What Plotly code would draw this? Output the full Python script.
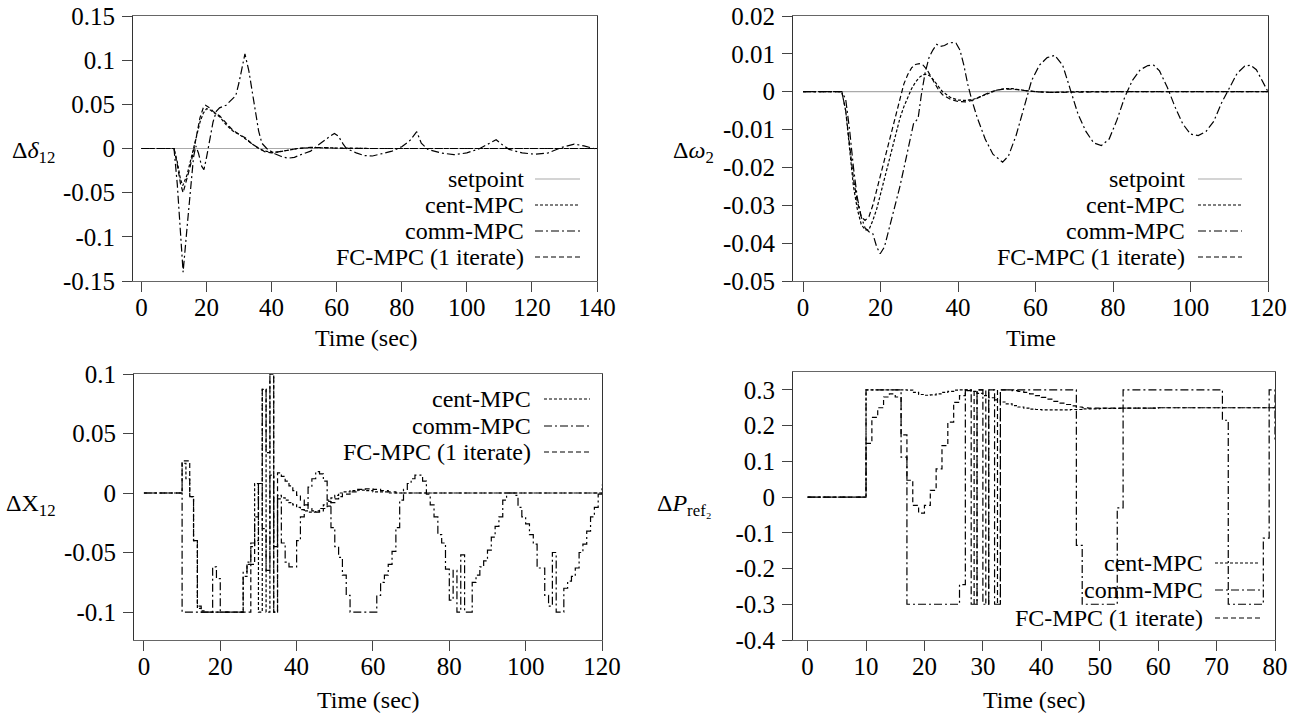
import plotly.graph_objects as go

W, H = 1301, 713
FONT = "Liberation Serif, DejaVu Serif, serif"

# ---------------- data ----------------
# top-left: delta delta_12 vs time
setpoint_d = [(0, 0), (140, 0)]
d12_cent = [(0, 0), (10, 0), (11, -0.015), (12, -0.035), (12.7, -0.042), (14, -0.03), (15, -0.015),
            (16, 0.0), (17, 0.015), (18, 0.03), (19, 0.04), (20, 0.045), (21, 0.044), (22, 0.041),
            (24, 0.036), (26, 0.027), (28, 0.02), (30, 0.016), (32, 0.011), (34, 0.005), (36, 0.0),
            (38, -0.003), (40, -0.004), (42, -0.004), (45, -0.002), (48, 0.0), (52, 0.001),
            (56, 0.0008), (60, 0.0003), (70, 0), (140, 0)]
d12_fc = [(0, 0), (10, 0), (11, -0.018), (12, -0.04), (12.8, -0.05), (14, -0.035), (15, -0.02),
          (16, -0.003), (17, 0.018), (18, 0.035), (19, 0.046), (19.7, 0.049), (21, 0.046), (22, 0.042),
          (24, 0.037), (26, 0.029), (28, 0.021), (30, 0.016), (32, 0.012), (34, 0.005), (36, 0.0),
          (38, -0.004), (40, -0.005), (42, -0.004), (45, -0.002), (48, 0.0), (52, 0.0012),
          (56, 0.001), (60, 0.0003), (70, 0), (140, 0)]
d12_comm = [(0, 0), (10, 0), (11, -0.04), (12, -0.1), (12.8, -0.14), (14, -0.09), (15, -0.05),
            (16, -0.01), (16.7, 0.003), (17.5, -0.005), (18.5, -0.02), (19.2, -0.024), (20, -0.01),
            (21, 0.01), (22, 0.03), (23, 0.042), (24, 0.046), (26, 0.049), (28, 0.056), (29, 0.06),
            (30, 0.075), (31, 0.095), (31.8, 0.107), (33, 0.088), (34, 0.065), (35, 0.045),
            (36, 0.02), (37, 0.006), (38.5, 0.0), (41, -0.006), (43, -0.009), (45, -0.011),
            (47, -0.01), (49, -0.007), (52, -0.003), (54, 0.003), (56, 0.009), (58, 0.014),
            (59.3, 0.017), (60.5, 0.014), (62, 0.005), (63, 0.0), (66, -0.005), (68.5, -0.008),
            (71, -0.0085), (74, -0.006), (77, -0.003), (80, 0.002), (82.5, 0.009), (84.6, 0.019),
            (86, 0.006), (88, -0.001), (92, -0.005), (96, -0.007), (100, -0.005), (104, 0.0),
            (107, 0.006), (109, 0.01), (111, 0.004), (113, -0.001), (117, -0.005), (121, -0.0065),
            (125, -0.005), (129, 0.001), (133, 0.005), (136, 0.003), (140, -0.001)]

# top-right: delta omega_2 vs time
setpoint_w = [(0, 0), (120, 0)]
w2_fc = [(0, 0), (10, 0), (11, -0.005), (12, -0.014), (13, -0.023), (14, -0.029), (15, -0.033),
         (16, -0.034), (17, -0.033), (18, -0.03), (19, -0.026), (20, -0.022), (21, -0.018),
         (22, -0.014), (23, -0.01), (24, -0.0055), (25, -0.0015), (26, 0.002), (27, 0.0045),
         (28, 0.0063), (29, 0.0072), (30, 0.0074), (31, 0.007), (32, 0.0058), (33, 0.004),
         (34, 0.002), (35, 0.0004), (36, -0.0008), (38, -0.002), (40, -0.0026), (42, -0.0027),
         (44, -0.0022), (46, -0.0012), (48, -0.0002), (50, 0.0004), (52, 0.0007), (54, 0.0007),
         (56, 0.0005), (58, 0.0002), (60, 0.0), (64, -0.0002), (70, -0.0001), (80, 0), (120, 0)]
w2_cent = [(0, 0), (10, 0), (11, -0.005), (12, -0.015), (13, -0.025), (14, -0.031), (15, -0.035),
           (16, -0.0365), (17, -0.0365), (18, -0.034), (19, -0.031), (20, -0.027), (21, -0.023),
           (22, -0.019), (23, -0.015), (24, -0.011), (25, -0.007), (26, -0.004), (27, -0.0015),
           (28, 0.0008), (29, 0.0025), (30, 0.0038), (31, 0.0045), (32, 0.0046), (33, 0.004),
           (34, 0.0028), (35, 0.0013), (36, 0.0), (38, -0.0015), (40, -0.0022), (42, -0.0023),
           (44, -0.002), (46, -0.0012), (48, -0.0003), (50, 0.0004), (52, 0.0008), (54, 0.0008),
           (56, 0.0005), (58, 0.0002), (60, 0.0), (64, -0.0002), (70, 0), (80, 0), (120, 0)]
w2_comm = [(0, 0), (10, 0), (11, -0.002), (12, -0.01), (13, -0.02), (14, -0.028), (15, -0.033),
           (16, -0.036), (17, -0.037), (18, -0.0375), (19, -0.041), (19.9, -0.0428), (21, -0.041),
           (22.5, -0.035), (24, -0.029), (25, -0.025), (26.5, -0.018), (27.5, -0.013),
           (28.5, -0.0085), (29.7, -0.007), (30.5, -0.001), (31.5, 0.005), (32.5, 0.009),
           (33.5, 0.011), (34.5, 0.0125), (35.5, 0.012), (36.5, 0.0122), (37.5, 0.0128),
           (38.5, 0.013), (39.5, 0.0128), (40.5, 0.011), (41.5, 0.007), (42.5, 0.002),
           (43.5, -0.002), (45, -0.007), (47, -0.0125), (49, -0.0165), (51.5, -0.0186),
           (53, -0.017), (55, -0.0115), (57, -0.004), (59, 0.003), (61, 0.007), (63, 0.009),
           (65, 0.0096), (67, 0.007), (69, 0.0005), (71, -0.006), (73, -0.0105), (75, -0.0135),
           (77, -0.0142), (79, -0.0125), (81, -0.0075), (83, -0.0015), (85, 0.003), (87, 0.0058),
           (89, 0.0069), (90.5, 0.007), (92, 0.0055), (94, 0.0012), (96, -0.004), (98, -0.0085),
           (100, -0.0112), (102, -0.0116), (104, -0.0105), (106, -0.0078), (108, -0.003),
           (110, 0.001), (112, 0.0048), (114, 0.0068), (115.5, 0.007), (117, 0.0058),
           (119, 0.002), (120, 0.0)]

# bottom-left: delta X_12 (piecewise constant inputs)
x12_cent = [(0, 0), (10, 0.025), (11, 0.012), (12, -0.003), (13, -0.04), (14, -0.097), (15, -0.099),
            (16, -0.1), (26, -0.07), (27, -0.06), (28, -0.045), (29, 0.008), (30, -0.1), (31, 0.087),
            (32, -0.1), (33, 0.1), (34, -0.1), (35, -0.002), (36, -0.004), (37, -0.006), (38, -0.008),
            (39, -0.01), (40, -0.012), (41, -0.014), (42, -0.015), (43, -0.016), (44, -0.016),
            (45, -0.015), (46, -0.013), (47, -0.01), (48, -0.007), (49, -0.004), (50, -0.002),
            (51, 0.0), (52, 0.001), (54, 0.002), (56, 0.0025), (58, 0.002), (60, 0.001), (64, 0.0),
            (70, 0.0), (120, 0.0)]
x12_fc = [(0, 0), (10, 0.027), (12, -0.003), (13, -0.04), (14, -0.095), (15, -0.1), (28, -0.06),
          (29, -0.04), (30, 0.008), (31, 0.087), (32, 0.034), (33, 0.1), (34, -0.1), (35, 0.017),
          (36, 0.014), (37, 0.01), (38, 0.006), (39, 0.002), (40, -0.002), (41, -0.006), (42, -0.01),
          (43, -0.013), (44, -0.015), (45, -0.016), (46, -0.015), (47, -0.013), (48, -0.011),
          (49, -0.008), (50, -0.005), (51, -0.003), (52, -0.001), (54, 0.001), (56, 0.003),
          (58, 0.0035), (60, 0.003), (62, 0.002), (64, 0.001), (66, 0.0), (70, 0.0), (120, 0.0)]
x12_comm = [(0, 0), (10, -0.1), (18, -0.062), (19, -0.072), (20, -0.1), (26, -0.066), (27, -0.058),
            (28, -0.042), (29, -0.02), (30, 0.008), (31, -0.03), (32, -0.065), (33, 0.015),
            (34, -0.045), (35, -0.005), (36, -0.042), (37, -0.058), (38, -0.062), (40, -0.04),
            (41, -0.02), (42, -0.01), (43, 0.005), (44, 0.012), (45, 0.018), (46, 0.016), (47, 0.01),
            (48, -0.006), (49, -0.029), (50, -0.045), (51, -0.054), (52, -0.069), (53, -0.086),
            (54, -0.1), (61, -0.086), (62, -0.075), (63, -0.069), (64, -0.06), (65, -0.049),
            (66, -0.029), (67, -0.006), (68, 0.003), (69, 0.008), (70, 0.012), (71, 0.015),
            (73, 0.01), (74, -0.001), (75, -0.01), (76, -0.02), (77, -0.035), (78, -0.042),
            (79, -0.064), (80, -0.09), (81, -0.065), (82, -0.1), (83, -0.052), (84, -0.1),
            (86, -0.075), (87, -0.069), (88, -0.062), (89, -0.057), (90, -0.048), (91, -0.037),
            (92, -0.028), (93, -0.02), (94, -0.006), (95, 0.0), (97, -0.002), (98, -0.012),
            (99, -0.02), (100, -0.026), (101, -0.035), (102, -0.043), (103, -0.063), (105, -0.086),
            (106, -0.095), (107, -0.05), (108, -0.1), (110, -0.08), (111, -0.074), (112, -0.07),
            (113, -0.063), (114, -0.05), (115, -0.043), (116, -0.032), (117, -0.02), (118, -0.012),
            (119, -0.001), (120, 0.007)]

# bottom-right: delta P_ref2 (piecewise constant inputs)
p2_cent = [(0, 0), (10, 0.3), (17, 0.299), (18, 0.293), (19, 0.287), (20, 0.285), (21, 0.286),
           (22, 0.289), (23, 0.293), (24, 0.296), (25, 0.299), (26, 0.3), (28, 0.296), (29, 0.29),
           (30, 0.284), (31, 0.278), (32, 0.272), (33, 0.266), (34, 0.261), (35, 0.256), (36, 0.252),
           (37, 0.249), (38, 0.246), (39, 0.245), (40, 0.244), (43, 0.244), (45, 0.245), (47, 0.247),
           (50, 0.248), (54, 0.249), (60, 0.25), (80, 0.25)]
p2_fc = [(0, 0), (10, 0.15), (11, 0.223), (12, 0.25), (13, 0.28), (14, 0.289), (15, 0.28),
         (16, 0.174), (17, 0.047), (18, -0.023), (19, -0.045), (20, -0.023), (21, 0.019), (22, 0.079),
         (23, 0.144), (24, 0.21), (25, 0.265), (26, 0.284), (27, 0.298), (28.5, -0.3), (29, 0.3),
         (30.5, -0.3), (31, 0.3), (32.5, -0.3), (33, 0.3), (35, 0.298), (36, 0.296), (37, 0.293),
         (38, 0.289), (39, 0.284), (40, 0.279), (41, 0.274), (42, 0.268), (43, 0.263), (44, 0.259),
         (45, 0.255), (46, 0.252), (47, 0.25), (48, 0.249), (52, 0.249), (60, 0.25), (80, 0.25)]
p2_comm = [(0, 0), (10, 0.3), (16, 0.112), (17, -0.3), (26, -0.245), (27, 0.3), (28, -0.3), (29, 0.3),
           (30, -0.3), (31, 0.3), (32, -0.3), (33, 0.3), (46, -0.135), (47, -0.3), (53, -0.03),
           (54, 0.3), (71, 0.215), (72, -0.3), (78, -0.115), (79, 0.3), (80, 0.16)]

# tick labels
yt_d = ["-0.15", "-0.1", "-0.05", "0", "0.05", "0.1", "0.15"]
yt_w = ["-0.05", "-0.04", "-0.03", "-0.02", "-0.01", "0", "0.01", "0.02"]
yt_x = ["-0.1", "-0.05", "0", "0.05", "0.1"]
yt_p = ["-0.4", "-0.3", "-0.2", "-0.1", "0", "0.1", "0.2", "0.3"]
xt_140 = ["0", "20", "40", "60", "80", "100", "120", "140"]
xt_120 = ["0", "20", "40", "60", "80", "100", "120"]
xt_80 = ["0", "10", "20", "30", "40", "50", "60", "70", "80"]

names = ["setpoint", "cent-MPC", "comm-MPC", "FC-MPC (1 iterate)"]
dashes = {"setpoint": "solid", "cent-MPC": "3px,2px", "comm-MPC": "8px,3px,2px,3px",
          "FC-MPC (1 iterate)": "5px,3px"}
colors = {"setpoint": "#aaaaaa", "cent-MPC": "black", "comm-MPC": "black",
          "FC-MPC (1 iterate)": "black"}


def px(x):
    return x / W


def py(y):
    return 1 - y / H


fig = go.Figure()


def add(series, name, xa, ya, shape="linear"):
    t, v = zip(*series)
    fig.add_trace(go.Scatter(x=list(t), y=list(v), mode="lines", name=name, showlegend=False,
                             xaxis=xa, yaxis=ya,
                             line=dict(color=colors[name], width=1.2, dash=dashes[name], shape=shape)))


add(setpoint_d, "setpoint", "x", "y")
add(d12_cent, "cent-MPC", "x", "y")
add(d12_comm, "comm-MPC", "x", "y")
add(d12_fc, "FC-MPC (1 iterate)", "x", "y")

add(setpoint_w, "setpoint", "x2", "y2")
add(w2_cent, "cent-MPC", "x2", "y2")
add(w2_comm, "comm-MPC", "x2", "y2")
add(w2_fc, "FC-MPC (1 iterate)", "x2", "y2")

add(x12_cent, "cent-MPC", "x3", "y3", "hv")
add(x12_comm, "comm-MPC", "x3", "y3", "hv")
add(x12_fc, "FC-MPC (1 iterate)", "x3", "y3", "hv")

add(p2_cent, "cent-MPC", "x4", "y4", "hv")
add(p2_comm, "comm-MPC", "x4", "y4", "hv")
add(p2_fc, "FC-MPC (1 iterate)", "x4", "y4", "hv")

tickfont = dict(family=FONT, size=25, color="black")


def xaxis(x0, x1, y_anchor, rng, labels):
    return dict(domain=[px(x0), px(x1)], anchor=y_anchor, range=rng, automargin=False,
                tickmode="array", tickvals=[float(s) for s in labels], ticktext=labels,
                ticks="outside", ticklen=10, tickcolor="#444", showline=True, linecolor="#666",
                linewidth=1, mirror=True, showgrid=False, zeroline=False, tickfont=tickfont,
                ticklabelstandoff=-6, fixedrange=True)


def yaxis(y0, y1, x_anchor, rng, labels):
    return dict(domain=[py(y1), py(y0)], anchor=x_anchor, range=rng, automargin=False,
                tickmode="array", tickvals=[float(s) for s in labels], ticktext=labels,
                ticks="outside", ticklen=10, tickcolor="#444", showline=True, linecolor="#333",
                linewidth=1, mirror=True, showgrid=False, zeroline=False, tickfont=tickfont,
                ticklabelstandoff=2, fixedrange=True)


fig.update_layout(
    width=W, height=H, margin=dict(l=0, r=0, t=0, b=0, autoexpand=False),
    paper_bgcolor="white", plot_bgcolor="white", showlegend=False,
    xaxis=xaxis(133, 597, "y", [-2.6, 140], xt_140),
    yaxis=yaxis(16, 281, "x", [-0.15, 0.15], yt_d),
    xaxis2=xaxis(793, 1268, "y2", [-2.6, 120], xt_120),
    yaxis2=yaxis(16, 281, "x2", [-0.05, 0.02], yt_w),
    xaxis3=xaxis(134, 602, "y3", [-2.6, 120], xt_120),
    yaxis3=yaxis(374, 640, "x3", [-0.1235, 0.1], yt_x),
    xaxis4=xaxis(793, 1275, "y4", [-2.5, 80], xt_80),
    yaxis4=yaxis(372, 640, "x4", [-0.4, 0.35], yt_p),
)

font = dict(family=FONT, size=24, color="black")
ann = []
shapes = []

# axis titles
for text, x, y in [("Δ<i>δ</i><sub>12</sub>", 33, 152), ("Δ<i>ω</i><sub>2</sub>", 693, 152),
                   ("ΔX<sub>12</sub>", 31, 505), ("Δ<i>P</i><sub>ref₂</sub>", 684, 505),
                   ("Time (sec)", 366, 338), ("Time", 1031, 338),
                   ("Time (sec)", 368, 700), ("Time (sec)", 1034, 700)]:
    ann.append(dict(text=text, x=px(x), y=py(y), xref="paper", yref="paper", showarrow=False,
                    xanchor="center", yanchor="middle", font=font))

# hand-made legends (text on the left, line sample on the right)
legends = [
    (names, [179, 205, 231, 257], 526, 535, 580),
    (names, [179, 205, 231, 257], 1187, 1198, 1242),
    (names[1:], [399, 426, 452], 533, 544, 590),
    (names[1:], [563, 590, 618], 1205, 1215, 1260),
]
for entries, ys, xt, xs0, xs1 in legends:
    for name, y in zip(entries, ys):
        ann.append(dict(text=name, x=px(xt), y=py(y), xref="paper", yref="paper", showarrow=False,
                        xanchor="right", yanchor="middle", font=font))
        shapes.append(dict(type="line", xref="paper", yref="paper", x0=px(xs0), x1=px(xs1),
                           y0=py(y), y1=py(y),
                           line=dict(color=colors[name], width=1.2, dash=dashes[name])))

fig.update_layout(annotations=ann, shapes=shapes)

# the page's default body margin would push the figure 8px off the window
fig.write_html("out.html", config={"displayModeBar": False},
               post_script="document.body.style.margin='0px';")
